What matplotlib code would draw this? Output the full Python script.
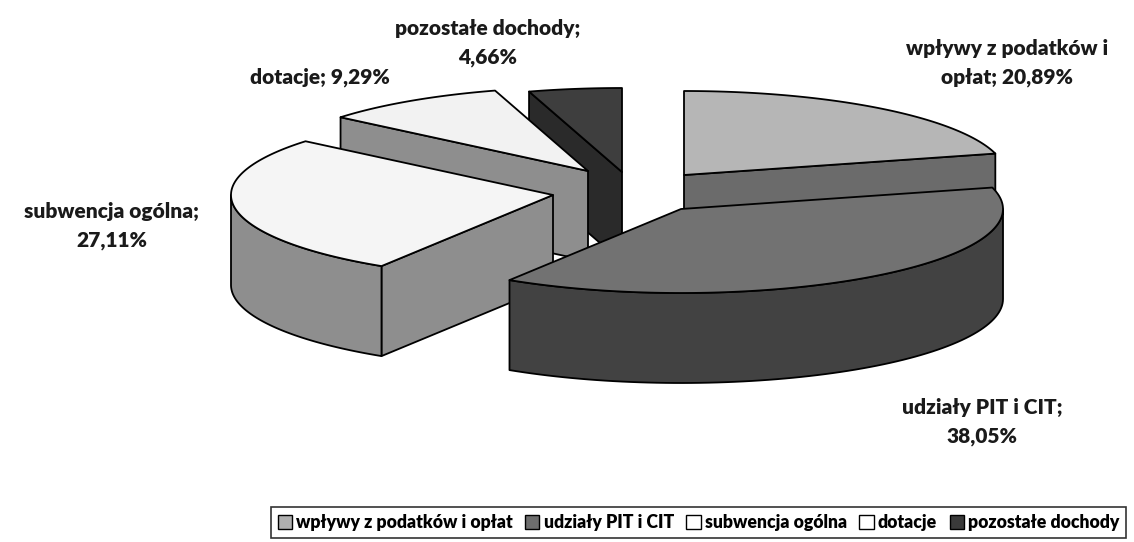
import numpy as np
import matplotlib.pyplot as plt
from matplotlib.patches import Polygon, Patch

plt.rcParams['font.family'] = ['Lato', 'DejaVu Sans']

# data
categories = ["wpływy z podatków i opłat", "udziały PIT i CIT", "subwencja ogólna",
              "dotacje", "pozostałe dochody"]
shares = [20.89, 38.05, 27.11, 9.29, 4.66]
label_texts = ["wpływy z podatków i\nopłat; 20,89%", "udziały PIT i CIT;\n38,05%",
               "subwencja ogólna;\n27,11%", "dotacje; 9,29%", "pozostałe dochody;\n4,66%"]

# style
top_colors = ["#b6b6b6", "#727272", "#f5f5f5", "#f2f2f2", "#3e3e3e"]
side_colors = ["#6b6b6b", "#424242", "#8e8e8e", "#8e8e8e", "#2a2a2a"]
legend_colors = ["#b0b0b0", "#6e6e6e", "#ffffff", "#ffffff", "#3a3a3a"]
# exploded slice centres (pixels), ellipse radii and depth
centres = [(684, 175), (681, 209), (553, 195), (588, 171), (622, 172)]
label_pos = [(1007, 63), (982, 422), (112, 226), (320, 77), (488, 43)]
A, B, DEPTH = 322, 84, 90
draw_order = [4, 3, 0, 2, 1]

fig = plt.figure(figsize=(11.34, 5.42), dpi=100)
ax = fig.add_axes([0, 0, 1, 1])
ax.set_xlim(0, 1134)
ax.set_ylim(542, 0)
ax.axis('off')


def rim(c, th, dz=0.0):
    return (c[0] + A * np.sin(th), c[1] - B * np.cos(th) + dz)


def face(pts, color):
    ax.add_patch(Polygon(pts, closed=True, facecolor=color, edgecolor='black',
                         linewidth=1.3, joinstyle='round'))


bounds = np.concatenate([[0], np.cumsum(shares)]) / 100.0 * 2 * np.pi

for i in draw_order:
    c = centres[i]
    t0, t1 = bounds[i], bounds[i + 1]
    cb = (c[0], c[1] + DEPTH)
    # radial face at start angle
    if np.sin(t0) < -1e-6:
        face([c, rim(c, t0), rim(c, t0, DEPTH), cb], side_colors[i])
    # radial face at end angle
    if np.sin(t1) > 1e-6:
        face([c, rim(c, t1), rim(c, t1, DEPTH), cb], side_colors[i])
    # outer wall (front half only)
    wa, wb = max(t0, np.pi / 2), min(t1, 1.5 * np.pi)
    if wb > wa:
        th = np.linspace(wa, wb, 80)
        upper = [rim(c, t) for t in th]
        lower = [rim(c, t, DEPTH) for t in th[::-1]]
        face(upper + lower, side_colors[i])
    # top face
    th = np.linspace(t0, t1, 120)
    face([c] + [rim(c, t) for t in th], top_colors[i])

for (x, y), txt in zip(label_pos, label_texts):
    ax.text(x, y, txt, ha='center', va='center', fontsize=15, fontweight='heavy',
            color='#1a1a1a', linespacing=1.55)

handles = [Patch(facecolor=col, edgecolor='black', linewidth=1.0) for col in legend_colors]
leg = fig.legend(handles, categories, loc='center', bbox_to_anchor=(0.616, 0.036),
                 ncol=5, frameon=True, fancybox=False,
                 prop={'weight': 'heavy', 'size': 12.7},
                 handlelength=0.8, handleheight=0.8, handletextpad=0.25,
                 columnspacing=0.7, borderpad=0.4, borderaxespad=0)
leg.get_frame().set_edgecolor('black')
leg.get_frame().set_linewidth(1.2)

fig.savefig('out.png', dpi=100, facecolor='white')
